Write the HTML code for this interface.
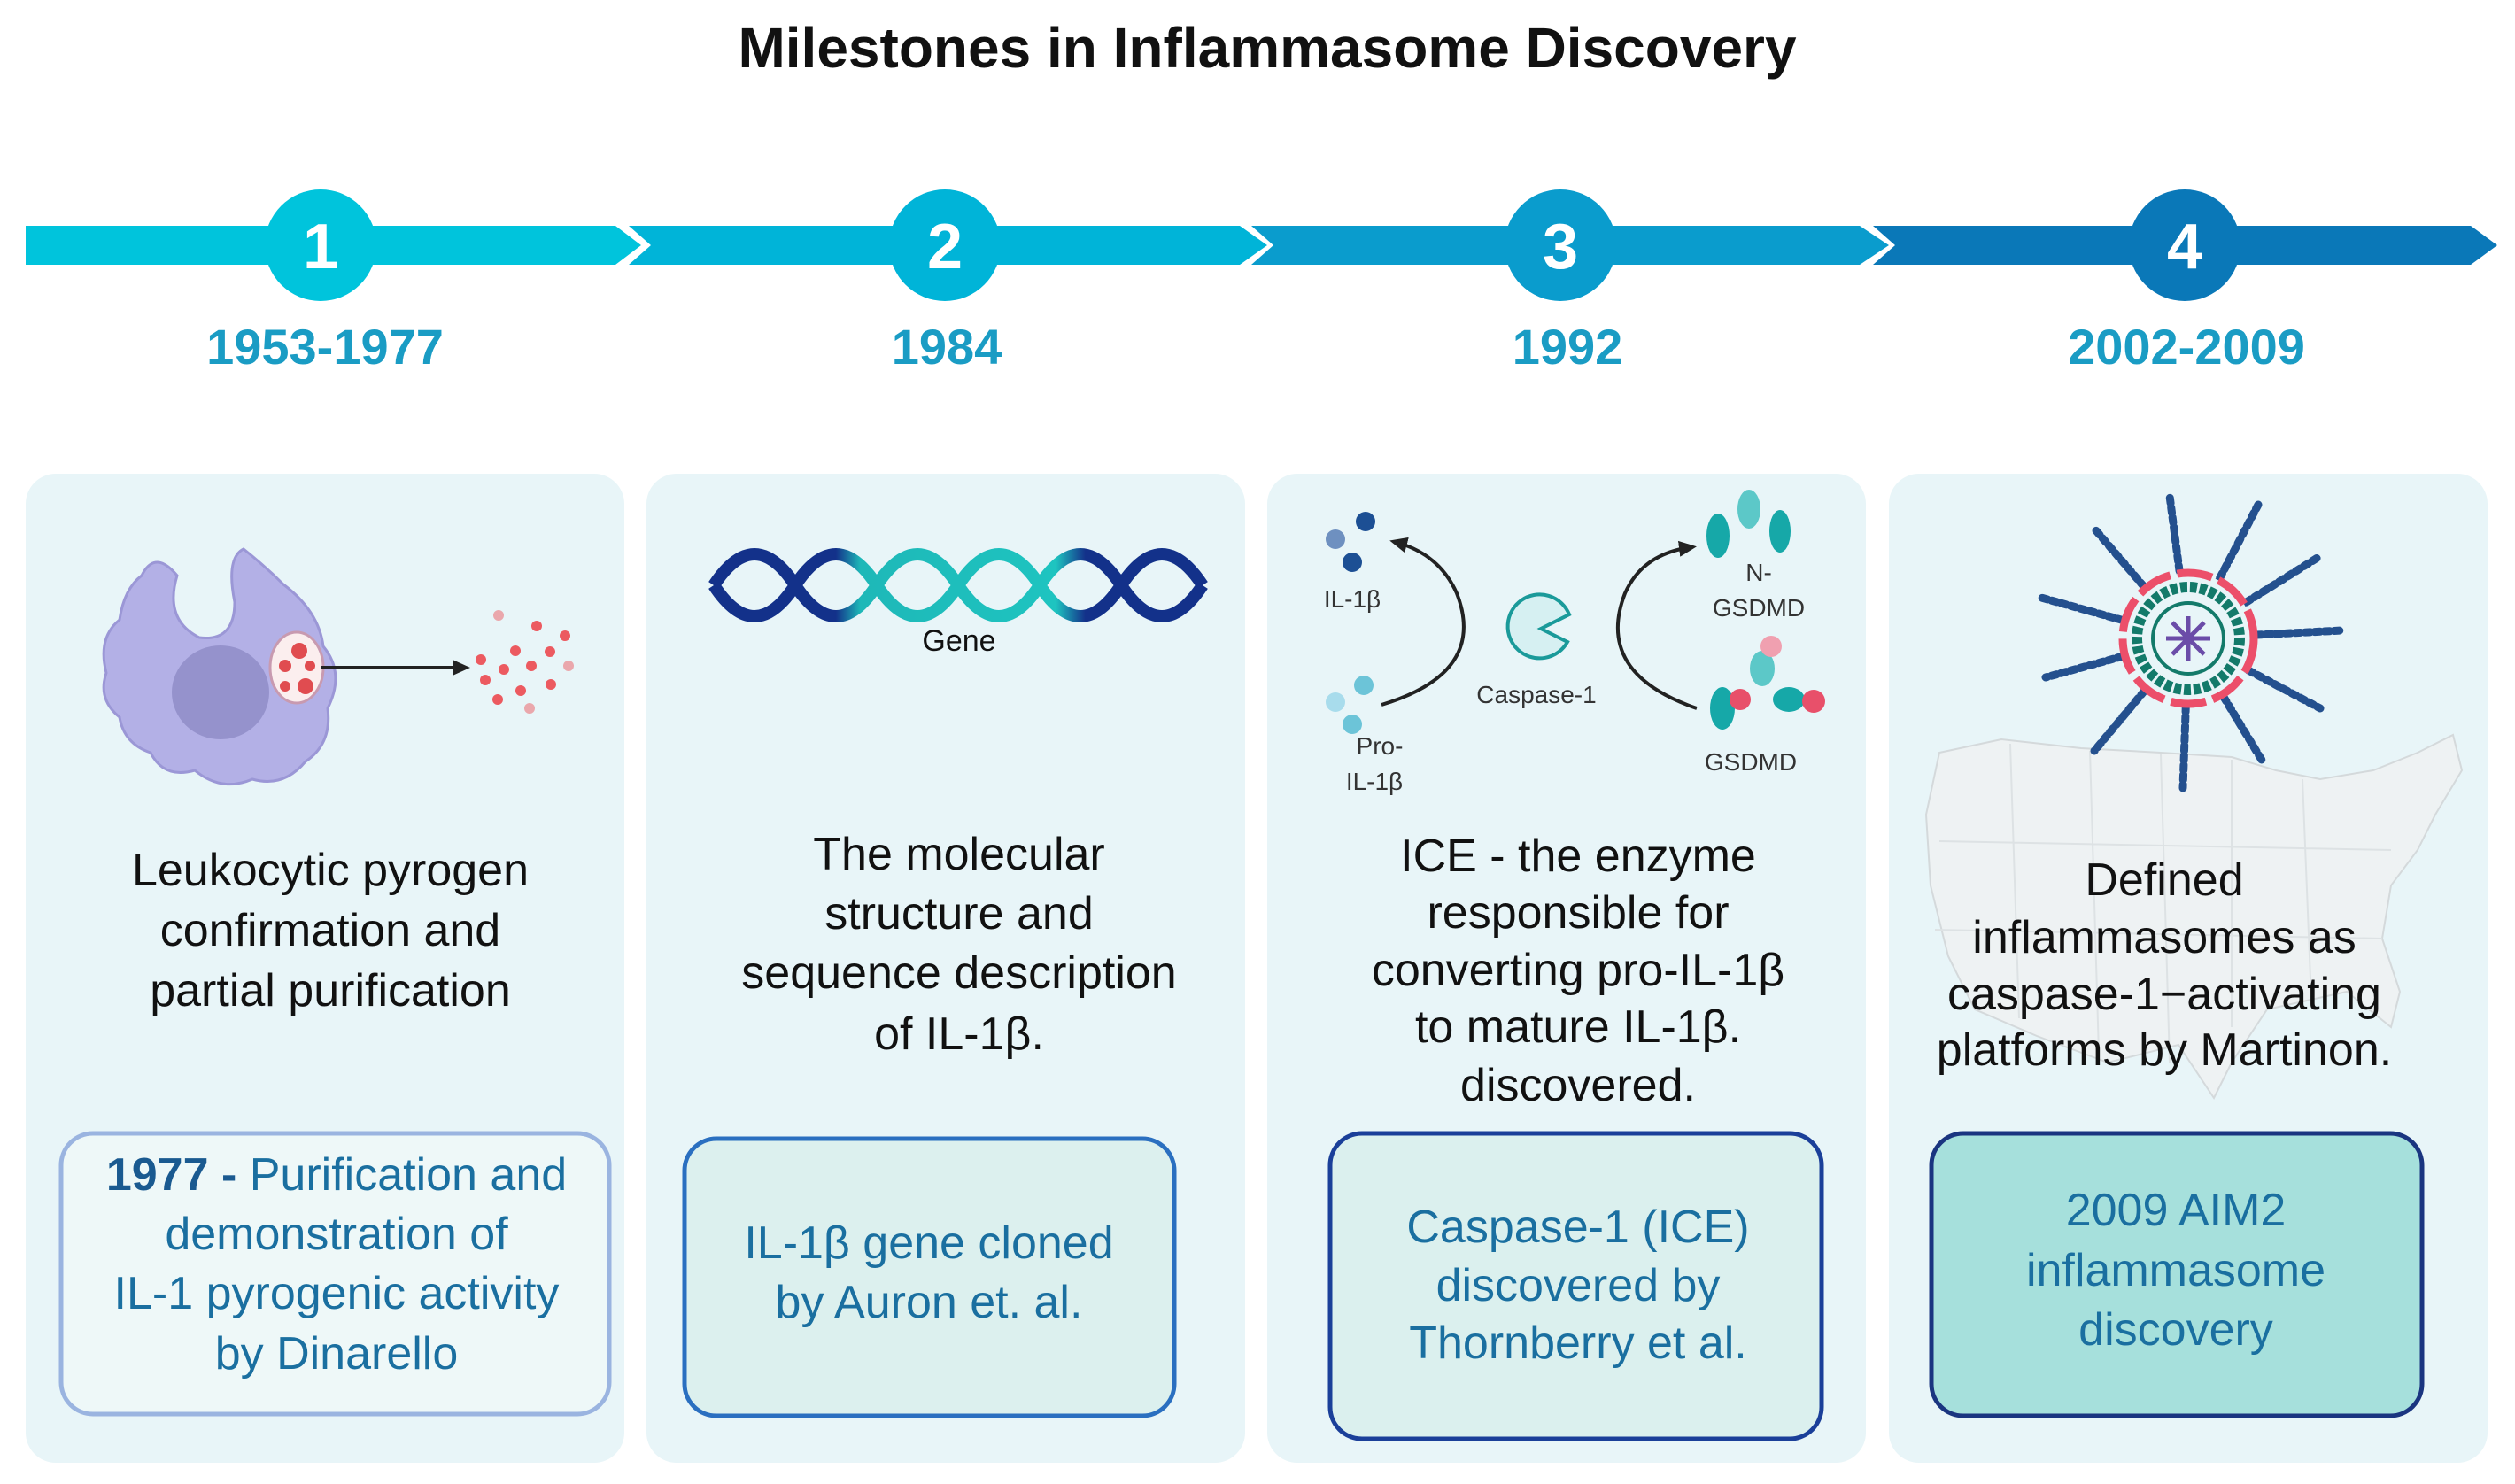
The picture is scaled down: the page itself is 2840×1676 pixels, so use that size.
<!DOCTYPE html>
<html><head><meta charset="utf-8"><style>
html,body{margin:0;padding:0;background:#fff;}
svg{display:block;}
text{font-family:"Liberation Sans",sans-serif;}
</style></head><body>
<svg width="2840" height="1676" viewBox="0 0 2840 1676" xmlns="http://www.w3.org/2000/svg">
<defs>
<linearGradient id="dna" x1="806" y1="0" x2="1358" y2="0" gradientUnits="userSpaceOnUse">
<stop offset="0" stop-color="#13318a"/><stop offset="0.25" stop-color="#13318a"/><stop offset="0.3" stop-color="#1eb8b8"/><stop offset="0.7" stop-color="#1ec4c0"/><stop offset="0.76" stop-color="#13318a"/><stop offset="1" stop-color="#13318a"/>
</linearGradient>
<marker id="ah" markerUnits="userSpaceOnUse" markerWidth="22" markerHeight="22" refX="14" refY="11" orient="auto"><path d="M0,2 L20,11 L0,20 z" fill="#222"/></marker>
</defs>
<text x="1431" y="76" text-anchor="middle" font-size="64" font-weight="bold" fill="#111">Milestones in Inflammasome Discovery</text>

<polygon points="29,255 695,255 724,277 695,299 29,299" fill="#00c4dc"/>
<polygon points="710,255 1400,255 1431,277 1400,299 710,299 735,277" fill="#00b4d8"/>
<polygon points="1413,255 2100,255 2133,277 2100,299 1413,299 1438,277" fill="#0a9ccd"/>
<polygon points="2115,255 2790,255 2820,277 2790,299 2115,299 2140,277" fill="#0a78b8"/>
<circle cx="362" cy="277" r="63" fill="#00c4dc"/>
<circle cx="1067" cy="277" r="63" fill="#00b4d8"/>
<circle cx="1762" cy="277" r="63" fill="#0a9ccd"/>
<circle cx="2467" cy="277" r="63" fill="#0a78b8"/>
<g font-size="72" font-weight="bold" fill="#fff" text-anchor="middle">
<text x="362" y="303">1</text><text x="1067" y="303">2</text><text x="1762" y="303">3</text><text x="2467" y="303">4</text></g>
<g font-size="56" font-weight="bold" fill="#1a9cc4" text-anchor="middle">
<text x="367" y="411">1953-1977</text><text x="1069" y="411">1984</text><text x="1770" y="411">1992</text><text x="2469" y="411">2002-2009</text></g>

<g fill="#e8f5f8">
<rect x="29" y="535" width="676" height="1117" rx="34"/>
<rect x="730" y="535" width="676" height="1117" rx="34"/>
<rect x="1431" y="535" width="676" height="1117" rx="34"/>
<rect x="2133" y="535" width="676" height="1117" rx="34"/>
</g>

<path d="M160,650 Q175,620 200,650 Q185,700 225,720 Q265,725 265,680 Q255,630 275,620 Q300,640 320,660 Q360,690 365,730 Q390,760 370,800 Q375,840 345,860 Q320,890 285,880 Q250,895 220,870 Q185,880 170,850 Q140,840 135,810 Q110,790 120,760 Q110,720 135,700 Q140,665 160,650 Z" fill="#b3b0e6" stroke="#9b97d6" stroke-width="3"/>
<ellipse cx="249" cy="782" rx="55" ry="53" fill="#9592cc"/>
<ellipse cx="335" cy="754" rx="30" ry="40" fill="#fbeeee" stroke="#c89ab0" stroke-width="3"/>
<g fill="#e04c50"><circle cx="338" cy="735" r="9"/><circle cx="322" cy="752" r="7"/><circle cx="345" cy="775" r="9"/><circle cx="322" cy="775" r="6"/><circle cx="350" cy="752" r="6"/></g>
<line x1="362" y1="754" x2="525" y2="754" stroke="#222" stroke-width="4" marker-end="url(#ah)"/>
<g fill="#ec5a60"><circle cx="563" cy="695" r="6" opacity=".5"/><circle cx="606" cy="707" r="6"/><circle cx="638" cy="718" r="6"/><circle cx="582" cy="735" r="6"/><circle cx="621" cy="736" r="6"/><circle cx="543" cy="745" r="6"/><circle cx="569" cy="756" r="6"/><circle cx="600" cy="752" r="6"/><circle cx="642" cy="752" r="6" opacity=".5"/><circle cx="548" cy="768" r="6"/><circle cx="622" cy="773" r="6"/><circle cx="588" cy="780" r="6"/><circle cx="562" cy="790" r="6"/><circle cx="598" cy="800" r="6" opacity=".5"/></g>

<path d="M806,661 q46,-70 92,0 t92,0 t92,0 t92,0 t92,0 t92,0" fill="none" stroke="url(#dna)" stroke-width="14"/>
<path d="M806,661 q46,70 92,0 t92,0 t92,0 t92,0 t92,0 t92,0" fill="none" stroke="url(#dna)" stroke-width="14"/>
<text x="1083" y="735" text-anchor="middle" font-size="34" fill="#111">Gene</text>

<circle cx="1542" cy="589" r="11" fill="#1c4f94"/><circle cx="1508" cy="609" r="11" fill="#6e90c0"/><circle cx="1527" cy="635" r="11" fill="#1c4f94"/>
<circle cx="1540" cy="774" r="11" fill="#6cc4d8"/><circle cx="1508" cy="793" r="11" fill="#a8dcec"/><circle cx="1527" cy="818" r="11" fill="#6cc4d8"/>
<g font-size="28" fill="#333" text-anchor="middle">
<text x="1527" y="686">IL-1β</text><text x="1558" y="852">Pro-</text><text x="1552" y="892">IL-1β</text>
<text x="1735" y="794">Caspase-1</text><text x="1986" y="656">N-</text><text x="1986" y="696">GSDMD</text><text x="1977" y="870">GSDMD</text></g>
<path d="M1560,796 Q1680,760 1645,670 Q1625,625 1575,612" fill="none" stroke="#222" stroke-width="4" marker-end="url(#ah)"/>
<path d="M1916,800 Q1800,760 1835,670 Q1855,625 1910,618" fill="none" stroke="#222" stroke-width="4" marker-end="url(#ah)"/>
<path d="M1772,694 A36,36 0 1 0 1770,725 L1740,710 Z" fill="#d6f0f2" stroke="#1a9a9a" stroke-width="4"/>
<g fill="#16a8a8"><ellipse cx="1940" cy="605" rx="13" ry="25"/><ellipse cx="1975" cy="575" rx="13" ry="22" fill="#5cc8c8"/><ellipse cx="2010" cy="600" rx="12" ry="24"/>
<ellipse cx="1945" cy="800" rx="14" ry="24"/><ellipse cx="1990" cy="755" rx="14" ry="20" fill="#5cc8c8"/><ellipse cx="2020" cy="790" rx="18" ry="14"/></g>
<g fill="#e8506a"><circle cx="1965" cy="790" r="12"/><circle cx="2000" cy="730" r="12" fill="#f0a0b0"/><circle cx="2048" cy="792" r="13"/></g>

<path d="M2190,850 L2260,835 L2350,845 L2440,850 L2520,855 L2570,870 L2620,880 L2680,870 L2730,850 L2770,830 L2780,870 L2750,920 L2730,960 L2700,1000 L2690,1060 L2710,1120 L2700,1160 L2650,1120 L2560,1140 L2520,1200 L2500,1240 L2460,1180 L2380,1200 L2300,1170 L2230,1140 L2200,1080 L2180,1000 L2175,920 Z" fill="#eef2f3" stroke="#d4d9db" stroke-width="2"/>
<g stroke="#dde2e4" stroke-width="2" fill="none"><path d="M2270,840 L2280,1150 M2360,848 L2370,1190 M2440,852 L2450,1200 M2520,858 L2520,1160 M2600,880 L2610,1130 M2190,950 L2700,960 M2185,1050 L2690,1060"/></g>
<g stroke="#24508e" stroke-width="9" stroke-dasharray="6,5" stroke-linecap="round">
<line x1="2471" y1="721" x2="2450" y2="560"/><line x1="2471" y1="721" x2="2550" y2="570"/><line x1="2471" y1="721" x2="2620" y2="628"/>
<line x1="2471" y1="721" x2="2645" y2="712"/><line x1="2471" y1="721" x2="2620" y2="800"/><line x1="2471" y1="721" x2="2555" y2="860"/>
<line x1="2471" y1="721" x2="2465" y2="890"/><line x1="2471" y1="721" x2="2365" y2="848"/><line x1="2471" y1="721" x2="2310" y2="765"/>
<line x1="2471" y1="721" x2="2305" y2="675"/><line x1="2471" y1="721" x2="2365" y2="597"/></g>
<circle cx="2471" cy="721" r="74" fill="#e8f5f8" stroke="#ec4f6a" stroke-width="9" stroke-dasharray="40,8"/>
<circle cx="2471" cy="721" r="58" fill="none" stroke="#137a6a" stroke-width="12" stroke-dasharray="8,3"/>
<circle cx="2471" cy="721" r="40" fill="none" stroke="#137a6a" stroke-width="4"/>
<g stroke="#6b4ca8" stroke-width="5"><line x1="2446" y1="721" x2="2496" y2="721"/><line x1="2471" y1="696" x2="2471" y2="746"/><line x1="2453" y1="703" x2="2489" y2="739"/><line x1="2489" y1="703" x2="2453" y2="739"/></g>

<g font-size="52" fill="#111" text-anchor="middle">
<text x="373" y="1000">Leukocytic pyrogen</text><text x="373" y="1068">confirmation and</text><text x="373" y="1136">partial purification</text>
<text x="1083" y="982">The molecular</text><text x="1083" y="1049">structure and</text><text x="1083" y="1116">sequence description</text><text x="1083" y="1185">of IL-1β.</text>
<text x="1782" y="984">ICE - the enzyme</text><text x="1782" y="1048">responsible for</text><text x="1782" y="1113">converting pro-IL-1β</text><text x="1782" y="1177">to mature IL-1β.</text><text x="1782" y="1243">discovered.</text>
<text x="2444" y="1011">Defined</text><text x="2444" y="1076">inflammasomes as</text><text x="2444" y="1140">caspase-1−activating</text><text x="2444" y="1203">platforms by Martinon.</text>
</g>

<rect x="69" y="1280" width="619" height="317" rx="36" fill="#eef8f8" stroke="#9ab4e0" stroke-width="5"/>
<rect x="773" y="1286" width="553" height="313" rx="36" fill="#dcf0ee" stroke="#2a6fc0" stroke-width="5"/>
<rect x="1502" y="1280" width="555" height="345" rx="36" fill="#dbf0ee" stroke="#1a3f99" stroke-width="5"/>
<rect x="2181" y="1280" width="554" height="319" rx="36" fill="#a6e0dc" stroke="#1a3580" stroke-width="5"/>
<g font-size="52" fill="#1a6fa0" text-anchor="middle">
<text x="380" y="1344"><tspan font-weight="bold" fill="#1a5a90">1977 -</tspan> Purification and</text><text x="380" y="1411">demonstration of</text><text x="380" y="1478">IL-1 pyrogenic activity</text><text x="380" y="1546">by Dinarello</text>
<text x="1049" y="1421">IL-1β gene cloned</text><text x="1049" y="1488">by Auron et. al.</text>
<text x="1782" y="1403">Caspase-1 (ICE)</text><text x="1782" y="1469">discovered by</text><text x="1782" y="1534">Thornberry et al.</text>
<text x="2457" y="1384">2009 AIM2</text><text x="2457" y="1452">inflammasome</text><text x="2457" y="1519">discovery</text>
</g>
</svg>
</body></html>
